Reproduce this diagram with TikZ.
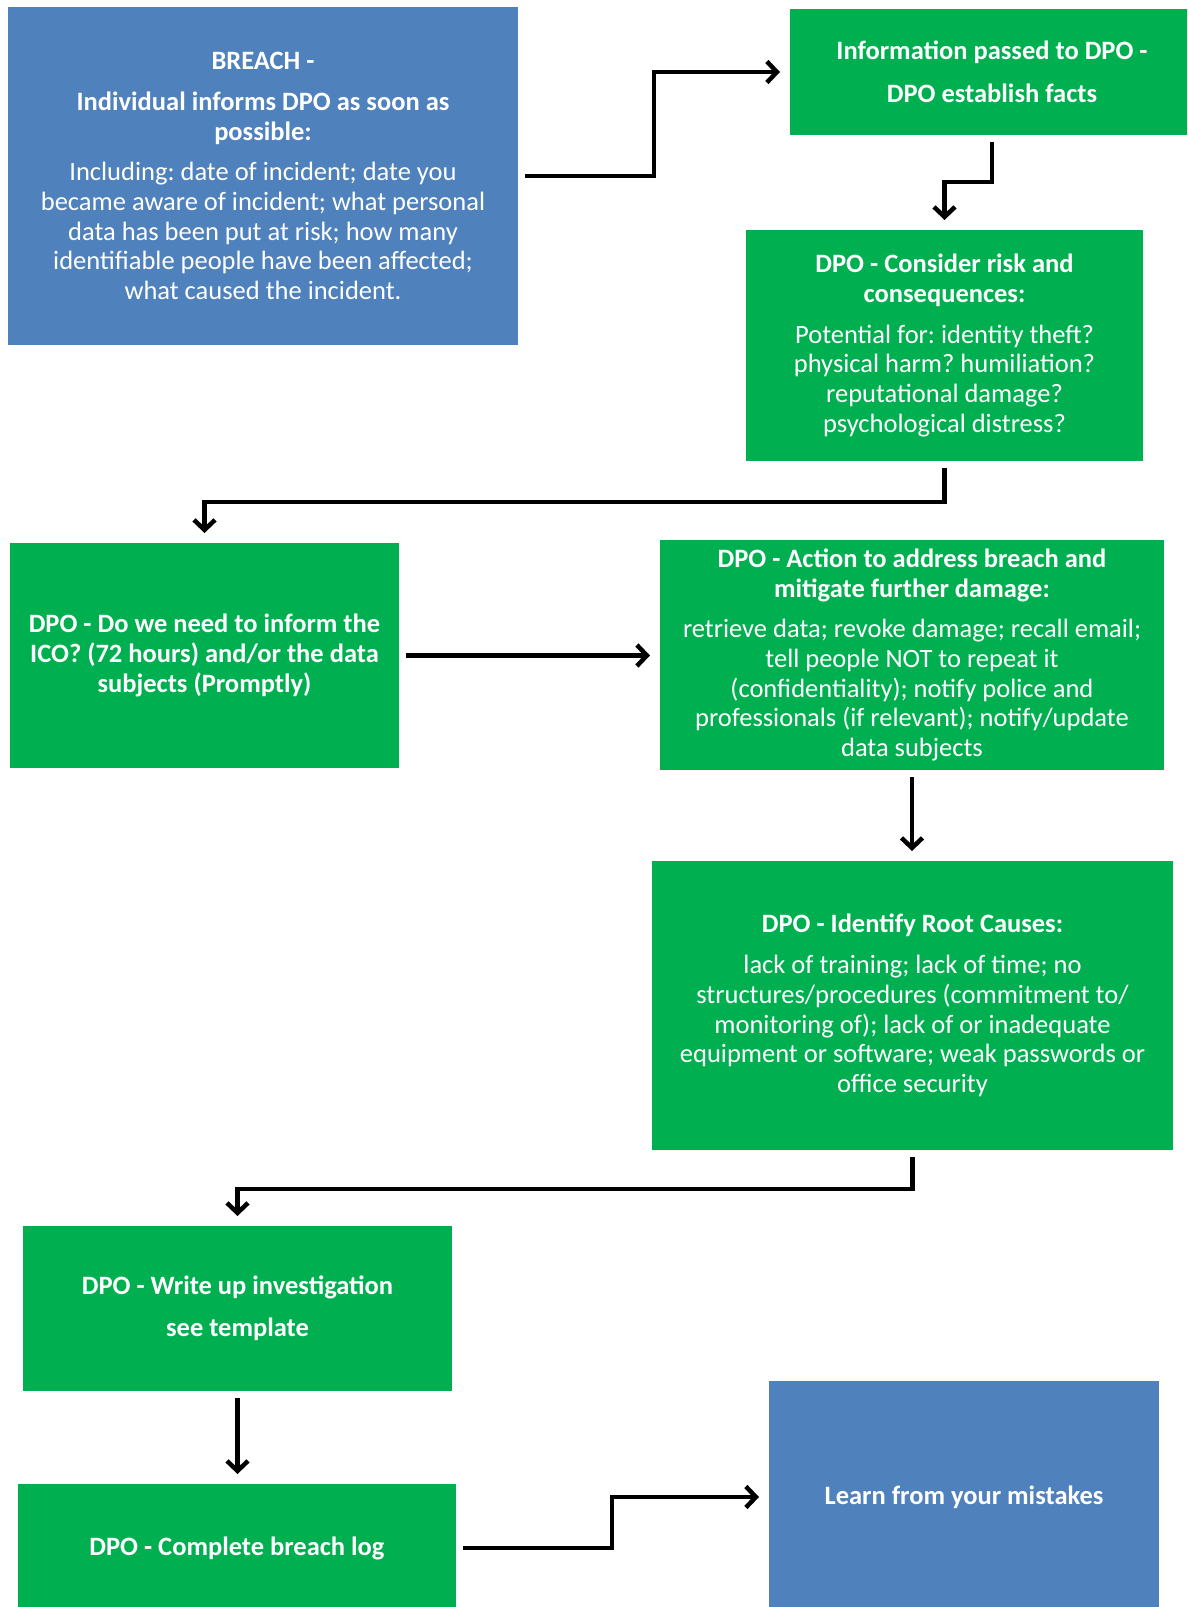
\documentclass[tikz,border=0pt]{standalone}
\usepackage{fontspec}
\setmainfont{Carlito}
\usetikzlibrary{arrows.meta}
\definecolor{boxblue}{HTML}{4F81BD}
\definecolor{boxgreen}{HTML}{00B050}
\frenchspacing
\begin{document}
\begin{tikzpicture}[x=1pt,y=-1pt,
  box/.style={draw=none, inner sep=0pt, outer sep=0pt, align=center, text=white,
    font=\fontsize{26.5}{29.7}\selectfont},
  bluebox/.style={box, fill=boxblue},
  greenbox/.style={box, fill=boxgreen},
  conn/.style={draw=black, line width=4.5pt, line join=miter,
    -{Straight Barb[length=10pt,width=21pt,line width=4.5pt]},
    shorten <=7pt, shorten >=10pt}
]
\useasboundingbox (0,0) rectangle (1187,1607);
\fill[white] (0,0) rectangle (1187,1607);
\clip (0,0) rectangle (1187,1607);

\node[bluebox, minimum width=510, minimum height=338] (b1) at (263,176)
 {\textbf{BREACH -}\\[11pt]
  \textbf{Individual informs DPO as soon as}\\
  \textbf{possible:}\\[11pt]
  Including: date of incident; date you\\
  became aware of incident; what personal\\
  data has been put at risk; how many\\
  identifiable people have been affected;\\
  what caused the incident.};

\node[greenbox, minimum width=404, minimum height=126] (b2) at (992,72)
 {\textbf{Information passed to DPO -}\\[13pt]
  \textbf{DPO establish facts}};

\node[greenbox, minimum width=397, minimum height=231] (b3) at (944.5,345.5)
 {\textbf{DPO - Consider risk and}\\
  \textbf{consequences:}\\[11pt]
  Potential for: identity theft?\\
  physical harm? humiliation?\\
  reputational damage?\\
  psychological distress?};

\node[greenbox, minimum width=389, minimum height=225] (b4) at (204.5,655.5)
 {\textbf{DPO - Do we need to inform the}\\
  \textbf{ICO? (72 hours) and/or the data}\\
  \textbf{subjects (Promptly)}};

\node[greenbox, minimum width=504, minimum height=230] (b5) at (912,655)
 {\textbf{DPO - Action to address breach and}\\
  \textbf{mitigate further damage:}\\[11pt]
  retrieve data; revoke damage; recall email;\\
  tell people NOT to repeat it\\
  (confidentiality); notify police and\\
  professionals (if relevant); notify/update\\
  data subjects};

\node[greenbox, minimum width=521, minimum height=289] (b6) at (912.5,1005.5)
 {\textbf{DPO - Identify Root Causes:}\\[11pt]
  lack of training; lack of time; no\\
  structures/procedures (commitment to/\\
  monitoring of); lack of or inadequate\\
  equipment or software; weak passwords or\\
  office security};

\node[greenbox, minimum width=429, minimum height=165] (b7) at (237.5,1308.5)
 {\textbf{DPO - Write up investigation}\\[12pt]
  \textbf{see template}};

\node[greenbox, minimum width=438, minimum height=128] (b8) at (237,1548)
 {\textbf{DPO - Complete breach log}};

\node[bluebox, minimum width=390, minimum height=232] (b9) at (964,1497)
 {\textbf{Learn from your mistakes}};

\draw[conn] (b1.east) -- ++(136,0) |- (b2.west);
\draw[conn] (b2.south) -- ++(0,47) -| (b3.north);
\draw[conn] (b3.south) -- ++(0,41) -| (b4.north);
\draw[conn] (b4.east) -- (b4.east -| b5.west);
\draw[conn] (b5.south) -- (b5.south |- b6.north);
\draw[conn] (b6.south) -- ++(0,39) -| (b7.north);
\draw[conn] (b7.south) -- (b7.south |- b8.north);
\draw[conn] (b8.east) -- ++(156,0) |- (b9.west);
\end{tikzpicture}
\end{document}
